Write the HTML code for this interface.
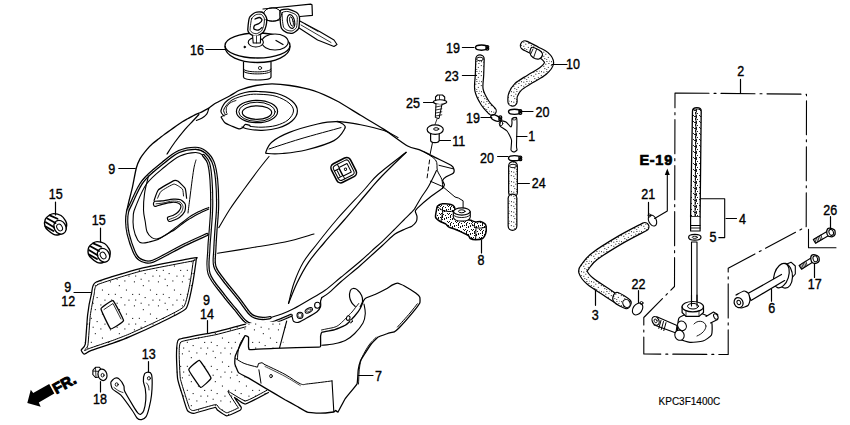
<!DOCTYPE html>
<html><head><meta charset="utf-8">
<style>
html,body{margin:0;padding:0;background:#fff;width:850px;height:425px;overflow:hidden}
svg{display:block}
text{font-family:"Liberation Sans",sans-serif;font-size:14.6px;fill:#000;stroke:#000;stroke-width:0.4px}
</style></head><body>
<svg width="850" height="425" viewBox="0 0 850 425">
<defs>
<pattern id="dots" width="24" height="24" patternUnits="userSpaceOnUse"><rect width="24" height="24" fill="#fff"/><rect x="4.3" y="16.4" width="1.1" height="1.1" fill="#222"/><rect x="15.1" y="11.5" width="1.1" height="1.1" fill="#222"/><rect x="12.1" y="5.9" width="1.1" height="1.1" fill="#222"/><rect x="0.6" y="9.0" width="1.1" height="1.1" fill="#222"/><rect x="18.8" y="5.8" width="1.1" height="1.1" fill="#222"/><rect x="5.9" y="1.5" width="1.1" height="1.1" fill="#222"/><rect x="20.6" y="14.7" width="1.1" height="1.1" fill="#222"/><rect x="8.4" y="11.6" width="1.1" height="1.1" fill="#222"/><rect x="22.8" y="21.1" width="1.1" height="1.1" fill="#222"/><rect x="13.9" y="17.3" width="1.1" height="1.1" fill="#222"/></pattern>
<pattern id="dots2" width="10" height="10" patternUnits="userSpaceOnUse"><rect width="10" height="10" fill="#fff"/><rect x="3.3" y="1.7" width="1" height="1" fill="#222"/><rect x="6.4" y="1.0" width="1" height="1" fill="#222"/><rect x="5.3" y="3.7" width="1" height="1" fill="#222"/><rect x="0.8" y="5.1" width="1" height="1" fill="#222"/><rect x="1.0" y="1.2" width="1" height="1" fill="#222"/><rect x="4.3" y="8.1" width="1" height="1" fill="#222"/><rect x="6.2" y="9.2" width="1" height="1" fill="#222"/><rect x="9.5" y="0.7" width="1" height="1" fill="#222"/><rect x="8.4" y="3.0" width="1" height="1" fill="#222"/><rect x="3.3" y="5.8" width="1" height="1" fill="#222"/><rect x="7.8" y="6.9" width="1" height="1" fill="#222"/></pattern>
<pattern id="mesh" width="6" height="6" patternUnits="userSpaceOnUse"><rect width="6" height="6" fill="#fff"/><rect x="4" y="2" width="1" height="1" fill="#222"/><rect x="5" y="2" width="1" height="1" fill="#222"/><rect x="5" y="5" width="1" height="1" fill="#222"/><rect x="5" y="4" width="1" height="1" fill="#222"/><rect x="0" y="3" width="1" height="1" fill="#222"/><rect x="1" y="5" width="1" height="1" fill="#222"/><rect x="0" y="1" width="1" height="1" fill="#222"/><rect x="0" y="2" width="1" height="1" fill="#222"/><rect x="3" y="1" width="1" height="1" fill="#222"/></pattern>
<pattern id="dots3" width="8" height="8" patternUnits="userSpaceOnUse"><rect width="8" height="8" fill="#fff"/><rect x="0" y="1" width="1" height="1" fill="#111"/><rect x="6" y="2" width="1" height="1" fill="#111"/><rect x="2" y="1" width="1" height="1" fill="#111"/><rect x="2" y="7" width="1" height="1" fill="#111"/><rect x="1" y="5" width="1" height="1" fill="#111"/><rect x="4" y="3" width="1" height="1" fill="#111"/><rect x="6" y="1" width="1" height="1" fill="#111"/><rect x="2" y="0" width="1" height="1" fill="#111"/><rect x="5" y="7" width="1" height="1" fill="#111"/><rect x="4" y="2" width="1" height="1" fill="#111"/><rect x="0" y="6" width="1" height="1" fill="#111"/><rect x="2" y="3" width="1" height="1" fill="#111"/><rect x="3" y="6" width="1" height="1" fill="#111"/><rect x="7" y="5" width="1" height="1" fill="#111"/></pattern>
</defs>
<g stroke-linejoin="round" stroke-linecap="round">
<path d="M126.5 212.0C126.8 210.8 128.2 204.1 128.9 201.3C129.6 198.5 131.4 191.8 132.3 187.9C133.2 184.0 135.4 171.4 136.3 168.0C137.2 164.6 138.8 161.1 140.0 158.9C141.2 156.7 145.5 151.2 147.0 149.4C148.5 147.6 151.3 144.7 152.7 143.5C154.1 142.3 157.4 139.9 158.8 138.8C160.2 137.7 163.2 135.2 164.6 134.2C166.0 133.2 169.2 131.0 170.6 130.0C172.0 129.0 175.1 126.8 176.5 125.8C177.9 124.8 181.0 122.7 182.4 121.8C183.8 120.9 186.8 119.3 188.2 118.5C189.6 117.7 192.7 115.9 194.0 115.3C195.3 114.7 198.2 113.5 199.4 113.0C200.6 112.5 203.1 111.2 204.2 110.6C205.3 110.0 207.5 108.9 208.8 108.1C210.1 107.3 212.6 104.9 215.0 103.5C217.4 102.1 226.7 97.6 229.6 96.0C232.5 94.4 236.9 91.2 240.0 90.0C243.1 88.8 252.3 86.2 256.0 85.5C259.7 84.8 268.0 83.8 272.0 83.8C276.0 83.8 285.2 84.7 290.0 85.5C294.8 86.3 308.0 88.8 313.5 90.6C319.0 92.4 331.5 98.1 337.0 101.0C342.5 103.9 355.1 112.0 360.6 115.3C366.1 118.6 378.5 125.8 384.0 129.4C389.5 133.0 403.3 143.6 407.6 146.0C411.9 148.4 417.6 149.0 420.8 150.3C424.0 151.6 431.4 155.5 435.0 157.3C438.6 159.1 449.2 164.1 451.4 165.5C453.6 166.9 453.8 168.8 454.0 169.7C454.2 170.6 454.1 172.4 453.2 173.2C452.3 174.0 447.4 176.0 446.2 176.8C445.0 177.6 442.8 179.4 442.6 180.3C442.4 181.2 444.4 183.8 444.4 184.7C444.4 185.6 442.8 187.8 442.6 188.2" fill="none" stroke="#000" stroke-width="1.3" />
<path d="M208.8 108.5C208.5 109.4 207.9 112.5 206.7 114.1C205.5 115.7 203.4 117.2 201.7 118.3C200.0 119.4 197.3 120.1 196.4 120.5" fill="none" stroke="#000" stroke-width="1.1" />
<path d="M198.9 114.5C198.0 115.5 195.7 118.0 193.3 120.5C191.0 123.0 187.9 126.0 184.8 129.6C181.8 133.2 178.0 137.9 175.0 142.0C172.0 146.1 168.3 152.0 167.0 154.0" fill="none" stroke="#000" stroke-width="1.2" />
<path d="M337.0 121.2C340.9 121.8 352.8 123.1 360.6 124.7C368.4 126.3 377.8 128.5 384.0 130.6C390.2 132.7 395.7 136.3 398.0 137.5" fill="none" stroke="#000" stroke-width="1.1" />
<path d="M266.0 151.8C266.7 149.9 268.1 145.2 272.0 142.0C275.9 138.8 281.8 135.4 289.4 132.4C297.0 129.4 309.8 125.8 317.6 124.0C325.5 122.2 332.2 121.5 336.5 121.6C340.8 121.7 342.1 123.4 343.5 124.6C344.9 125.8 346.3 126.1 344.7 128.8C343.1 131.5 340.4 137.1 334.0 140.6C327.6 144.1 314.6 147.8 306.0 150.0C297.4 152.2 288.7 152.9 282.4 153.5C276.1 154.1 270.7 153.8 268.0 153.5C265.3 153.2 265.3 153.7 266.0 151.8Z" fill="none" stroke="#000" stroke-width="1.2" />
<path d="M269.0 149.0C274.2 147.3 288.0 142.6 300.0 139.0C312.0 135.4 334.2 129.5 341.0 127.6" fill="none" stroke="#000" stroke-width="1.0" />
<path d="M224.0 116.0C223.5 115.1 220.3 113.2 221.0 110.5C221.7 107.8 224.0 103.0 228.0 100.0C232.0 97.0 239.8 93.9 245.0 92.5C250.2 91.1 253.7 91.3 259.0 91.5C264.3 91.7 271.5 91.9 277.0 93.5C282.5 95.1 288.6 98.1 292.0 101.0C295.4 103.9 297.4 107.7 297.4 111.0C297.4 114.3 295.2 118.2 292.0 121.0C288.8 123.8 283.0 126.5 278.0 128.0C273.0 129.6 267.0 130.1 262.0 130.3C257.0 130.5 251.3 129.6 248.0 129.0C244.7 128.4 243.0 127.3 242.0 127.0" fill="none" stroke="#000" stroke-width="1.2" />
<path d="M225.0 114.0C224.8 113.2 222.8 111.3 224.0 109.0C225.2 106.7 228.2 102.3 232.0 100.0C235.8 97.7 242.3 96.0 247.0 95.0C251.7 94.0 255.2 94.1 260.0 94.3C264.8 94.5 271.2 94.8 276.0 96.3C280.8 97.8 286.1 100.5 289.0 103.0C291.9 105.5 293.7 108.2 293.5 111.0C293.3 113.8 290.9 117.6 288.0 120.0C285.1 122.4 280.3 124.3 276.0 125.5C271.7 126.7 266.3 127.0 262.0 127.2C257.7 127.4 252.0 126.5 250.0 126.4" fill="none" stroke="#000" stroke-width="1.0" />
<path d="M221.2 117.0C221.3 117.2 221.5 117.8 222.0 118.6C222.5 119.4 223.6 121.7 224.9 122.7C226.2 123.7 229.6 125.2 231.5 126.0C233.4 126.8 237.5 128.6 238.9 128.9C240.3 129.2 241.5 128.4 242.2 128.0C242.9 127.6 243.4 126.5 243.8 126.0C244.2 125.5 244.7 124.4 245.5 124.3C246.3 124.2 249.4 125.3 250.0 125.5" fill="none" stroke="#000" stroke-width="1.2" />
<path d="M221.2 116.9 L223.2 115.7 L227.3 114.0" fill="none" stroke="#000" stroke-width="1.0" />
<path d="M226.5 112.8C226.5 111.9 225.9 109.1 226.5 107.5C227.1 105.9 228.4 104.2 230.0 103.0C231.6 101.8 235.0 100.9 236.0 100.5" fill="none" stroke="#000" stroke-width="0.9" />
<ellipse cx="257" cy="111.5" rx="20.6" ry="11.2" fill="none" stroke="#000" stroke-width="1.2" />
<ellipse cx="257" cy="111.8" rx="18.2" ry="9.6" fill="none" stroke="#000" stroke-width="1.0" />
<ellipse cx="257" cy="112.6" rx="14.7" ry="6.8" fill="none" stroke="#000" stroke-width="1.2" />
<g transform="translate(343.7 170.2) rotate(-27)" fill="none" stroke="#000"><rect x="-10.8" y="-10.4" width="21.6" height="20.8" rx="4.5" stroke-width="1.6" fill="#fff"/><rect x="-8.6" y="-8.2" width="17.2" height="16.4" rx="3" stroke-width="1"/><path d="M-8.6 -3.5 H-3 M-8.6 4.5 H-3 M-6 -3.5 V4.5 M-3.5 -3.5 V4.5 M-3 -8.2 V8.2 M-3 -4.5 H6 V5 H-3" stroke-width="1"/><circle cx="2" cy="0" r="1.2" stroke-width="0.9"/></g>
<path d="M406.2 152.3C402.2 156.2 388.1 169.7 382.0 176.0C375.9 182.3 375.9 182.7 369.6 190.0C363.3 197.3 351.8 211.2 344.2 220.0C336.6 228.8 329.9 235.9 324.0 243.0C318.1 250.1 313.0 255.6 308.5 262.3C304.0 269.0 300.3 276.1 297.0 283.0C293.7 289.9 289.9 300.1 288.5 303.5" fill="none" stroke="#000" stroke-width="1.2" />
<path d="M406.2 152.3C401.5 156.0 385.0 168.2 378.0 174.5C371.0 180.8 370.9 182.4 364.0 190.0C357.1 197.6 344.2 211.0 336.4 220.0C328.6 229.0 322.5 236.9 317.0 244.0C311.5 251.1 307.1 255.8 303.3 262.3C299.5 268.8 296.5 276.1 294.0 283.0C291.5 289.9 289.4 300.1 288.5 303.5" fill="none" stroke="#000" stroke-width="1.1" />
<path d="M442.6 188.2C440.8 189.5 434.0 194.1 430.3 197.0C426.6 199.9 420.2 205.5 418.0 207.6C415.8 209.7 415.4 209.9 415.3 211.2C415.2 212.5 416.9 214.9 417.0 216.5C417.1 218.1 417.0 220.3 416.2 221.8C415.4 223.3 413.4 225.1 411.8 226.2C410.2 227.2 408.1 227.6 405.6 228.8C403.1 230.0 398.5 231.6 395.0 234.1C391.5 236.6 387.6 240.8 382.4 245.5C377.1 250.2 366.2 260.3 360.0 265.7C353.8 271.1 345.9 277.4 341.2 281.5C336.5 285.6 331.7 290.5 328.8 292.9C325.9 295.3 322.9 296.9 321.8 297.6" fill="none" stroke="#000" stroke-width="1.2" />
<path d="M436.5 170.6C435.2 173.2 431.0 182.1 428.5 186.5C426.0 190.9 423.7 193.5 421.5 197.0C419.3 200.5 416.8 205.2 415.3 207.6C413.8 210.0 414.5 209.1 412.6 211.2C410.7 213.3 406.7 217.1 403.8 220.0C400.9 222.9 398.6 225.2 395.0 228.8C391.4 232.4 386.3 237.6 382.4 241.3C378.5 245.0 375.5 247.4 371.8 250.8C368.1 254.2 365.1 257.1 360.0 261.5C354.9 265.9 347.1 272.2 341.2 277.0C335.3 281.8 330.2 286.6 324.7 290.5C319.2 294.4 313.2 297.4 308.0 300.5C302.8 303.6 297.9 306.5 293.5 308.8C289.1 311.1 285.7 312.6 281.8 314.1C277.9 315.6 272.0 317.0 270.0 317.6" fill="none" stroke="#000" stroke-width="1.1" />
<path d="M423.2 151.4C425.3 152.8 433.2 156.8 435.6 160.0C438.0 163.2 436.4 167.4 437.4 170.6C438.4 173.8 440.9 176.5 441.8 179.4C442.7 182.3 442.5 186.7 442.6 188.2" fill="none" stroke="#000" stroke-width="1.0" />
<path d="M439 165.3 L453.2 168.8" fill="none" stroke="#000" stroke-width="1.0" />
<path d="M432.6 142 L430.2 153.8" fill="none" stroke="#000" stroke-width="1.0" />
<path d="M429.6 160 L426.8 180" fill="none" stroke="#000" stroke-width="1.0" stroke-dasharray="4 3"/>
<path d="M430.3 181.2 L442.6 186.5 L455 197 L458.4 198 L463.1 200.8 V209" fill="none" stroke="#000" stroke-width="1.0" />
<path d="M291.2 315.3C291.4 315.6 292.1 316.8 292.4 317.6C292.7 318.4 292.7 320.6 293.5 321.2C294.3 321.8 296.6 322.7 298.2 322.4C299.8 322.1 302.8 320.2 305.3 318.8C307.8 317.4 315.0 313.4 317.0 311.8C319.0 310.2 320.1 307.9 320.6 306.5C321.1 305.1 320.4 302.4 320.6 301.2C320.8 300.0 321.6 298.1 321.8 297.6" fill="none" stroke="#000" stroke-width="1.2" />
<ellipse cx="300" cy="315.3" rx="3" ry="3.1" fill="none" stroke="#000" stroke-width="1.1" />
<ellipse cx="300" cy="315.3" rx="2" ry="2.1" fill="none" stroke="#000" stroke-width="0.6" />
<ellipse cx="308.8" cy="310.4" rx="4" ry="2.1" fill="none" stroke="#000" stroke-width="1.0" transform="rotate(-28 308.8 310.4)" />
<ellipse cx="308.8" cy="310.4" rx="2.6" ry="1.1" fill="none" stroke="#000" stroke-width="0.6" transform="rotate(-28 308.8 310.4)" />
<ellipse cx="317.4" cy="305.3" rx="2.8" ry="3" fill="none" stroke="#000" stroke-width="1.1" />
<path d="M217.6 253.3C223.0 252.4 238.8 249.9 250.0 248.0C261.2 246.1 274.3 244.3 285.0 242.0C295.7 239.7 309.2 235.3 314.0 234.0" fill="none" stroke="#000" stroke-width="1.1" />
<path d="M269.0 156.5C266.8 159.2 260.2 167.4 256.0 173.0C251.8 178.6 247.8 184.0 243.5 190.0C239.2 196.0 234.1 202.7 230.0 209.0C225.9 215.3 220.7 224.5 218.8 227.6" fill="none" stroke="#000" stroke-width="1.1" />
<path d="M207.0 234.5C203.3 236.2 191.4 241.4 184.7 244.7C178.0 248.0 172.3 251.3 167.0 254.1C161.7 256.9 156.4 259.9 152.9 261.2C149.4 262.5 148.2 262.2 145.9 261.8C143.6 261.4 140.8 260.5 138.8 258.8C136.8 257.1 135.9 255.9 134.1 251.8C132.3 247.7 129.4 239.1 128.2 234.1C127.0 229.1 126.8 225.7 126.7 222.0C126.6 218.3 126.8 215.0 127.5 212.0C128.2 209.0 128.4 209.2 131.0 204.0C133.6 198.8 137.7 187.8 143.0 181.0C148.3 174.2 156.8 167.9 162.8 163.0C168.8 158.1 173.5 153.9 179.0 151.5C184.5 149.1 191.3 148.2 195.7 148.3C200.1 148.4 202.6 149.7 205.5 152.0C208.4 154.3 211.2 157.5 213.0 162.0C214.8 166.5 215.7 171.5 216.5 178.8C217.3 186.1 217.7 197.5 217.6 206.0C217.5 214.5 216.5 222.3 216.0 229.6C215.5 236.9 215.0 243.9 214.8 250.0C214.6 256.1 213.4 261.4 214.8 266.3C216.2 271.2 219.3 274.2 223.2 279.5C227.1 284.8 233.9 292.7 238.3 298.3C242.7 303.9 246.8 310.3 249.6 313.4C252.4 316.5 253.0 316.2 255.2 317.1C257.4 318.0 260.3 318.4 262.8 318.5C265.3 318.6 268.8 317.8 270.0 317.6" fill="none" stroke="#000" stroke-width="3.3"/>
<path d="M207.0 234.5C203.3 236.2 191.4 241.4 184.7 244.7C178.0 248.0 172.3 251.3 167.0 254.1C161.7 256.9 156.4 259.9 152.9 261.2C149.4 262.5 148.2 262.2 145.9 261.8C143.6 261.4 140.8 260.5 138.8 258.8C136.8 257.1 135.9 255.9 134.1 251.8C132.3 247.7 129.4 239.1 128.2 234.1C127.0 229.1 126.8 225.7 126.7 222.0C126.6 218.3 126.8 215.0 127.5 212.0C128.2 209.0 128.4 209.2 131.0 204.0C133.6 198.8 137.7 187.8 143.0 181.0C148.3 174.2 156.8 167.9 162.8 163.0C168.8 158.1 173.5 153.9 179.0 151.5C184.5 149.1 191.3 148.2 195.7 148.3C200.1 148.4 202.6 149.7 205.5 152.0C208.4 154.3 211.2 157.5 213.0 162.0C214.8 166.5 215.7 171.5 216.5 178.8C217.3 186.1 217.7 197.5 217.6 206.0C217.5 214.5 216.5 222.3 216.0 229.6C215.5 236.9 215.0 243.9 214.8 250.0C214.6 256.1 213.4 261.4 214.8 266.3C216.2 271.2 219.3 274.2 223.2 279.5C227.1 284.8 233.9 292.7 238.3 298.3C242.7 303.9 246.8 310.3 249.6 313.4C252.4 316.5 253.0 316.2 255.2 317.1C257.4 318.0 260.3 318.4 262.8 318.5C265.3 318.6 268.8 317.8 270.0 317.6" fill="none" stroke="#fff" stroke-width="0.9"/>
<path d="M208.8 209.0C207.0 209.8 201.1 212.4 198.0 214.0C194.9 215.6 192.2 217.3 190.0 218.6C187.8 219.9 187.2 220.2 184.7 222.0C182.2 223.8 177.8 227.6 175.0 229.5C172.2 231.4 170.7 231.8 167.9 233.5C165.1 235.2 161.2 238.1 158.0 239.5C154.8 240.9 151.6 241.4 149.0 242.0C146.4 242.6 144.4 243.3 142.5 243.0C140.6 242.7 139.3 242.7 137.8 240.2C136.3 237.7 134.2 232.2 133.5 228.0C132.8 223.8 133.0 218.5 133.3 215.0C133.6 211.5 133.3 212.2 135.5 207.0C137.7 201.8 141.7 190.7 146.5 184.0C151.3 177.3 158.9 171.7 164.5 167.0C170.1 162.3 174.8 158.4 180.0 156.0C185.2 153.6 191.6 152.6 195.5 152.5C199.4 152.4 201.3 153.8 203.5 155.5C205.7 157.2 207.7 161.8 208.5 163.0" fill="none" stroke="#000" stroke-width="1.1" />
<path d="M203.5 155.5C204.3 156.8 207.2 158.9 208.5 163.0C209.8 167.1 210.5 172.8 211.0 180.0C211.5 187.2 211.8 197.7 211.7 206.0C211.6 214.3 210.8 222.3 210.3 229.6C209.8 236.9 209.0 242.6 208.8 250.0C208.6 257.4 206.7 266.4 209.1 273.8C211.5 281.2 218.8 288.5 223.2 294.5C227.6 300.5 231.9 305.2 235.5 309.6C239.1 314.0 242.2 318.4 244.9 320.9C247.6 323.4 248.8 323.8 251.5 324.6C254.2 325.4 257.0 326.0 260.9 325.6C264.8 325.2 269.9 323.7 275.0 322.0C280.1 320.3 288.5 316.4 291.2 315.3" fill="none" stroke="#000" stroke-width="3.2"/>
<path d="M203.5 155.5C204.3 156.8 207.2 158.9 208.5 163.0C209.8 167.1 210.5 172.8 211.0 180.0C211.5 187.2 211.8 197.7 211.7 206.0C211.6 214.3 210.8 222.3 210.3 229.6C209.8 236.9 209.0 242.6 208.8 250.0C208.6 257.4 206.7 266.4 209.1 273.8C211.5 281.2 218.8 288.5 223.2 294.5C227.6 300.5 231.9 305.2 235.5 309.6C239.1 314.0 242.2 318.4 244.9 320.9C247.6 323.4 248.8 323.8 251.5 324.6C254.2 325.4 257.0 326.0 260.9 325.6C264.8 325.2 269.9 323.7 275.0 322.0C280.1 320.3 288.5 316.4 291.2 315.3" fill="none" stroke="#fff" stroke-width="0.9"/>
<path d="M148.5 176.0C147.8 179.0 145.3 188.1 144.5 193.8C143.7 199.5 143.4 205.3 143.5 210.0C143.6 214.7 144.7 218.4 145.3 222.0C145.9 225.6 145.9 229.2 147.0 231.8C148.1 234.4 150.0 236.4 151.8 237.6C153.6 238.8 155.1 239.4 157.6 238.8C160.1 238.2 164.3 235.7 167.0 234.1C169.7 232.5 170.8 231.1 173.5 229.1C176.2 227.1 180.4 223.9 183.0 222.0C185.6 220.1 186.5 219.0 188.8 217.4C191.1 215.8 193.7 214.3 197.0 212.6C200.3 210.9 206.8 208.3 208.8 207.4" fill="none" stroke="#000" stroke-width="1.1" />
<path d="M188.0 213.0C188.3 210.3 189.1 204.2 190.0 197.0C190.9 189.8 192.6 176.2 193.6 170.0C194.6 163.8 195.6 161.7 196.0 160.0" fill="none" stroke="#000" stroke-width="1.0" />
<path d="M154.1 200.4C154.5 199.5 156.8 191.5 158.4 189.8C160.1 188.2 172.3 181.3 173.9 180.6C175.5 179.9 177.2 180.7 178.1 181.3C179.0 182.0 184.5 187.0 185.2 188.4C185.9 189.8 186.5 197.4 186.6 198.2" fill="none" stroke="#000" stroke-width="1.2" />
<path d="M157.6 198.2C157.9 197.6 159.8 192.4 161.2 191.2C162.6 190.0 172.1 184.3 173.9 184.1C175.7 183.9 181.6 188.0 182.4 189.0C183.2 190.0 183.4 195.4 183.5 196.0" fill="none" stroke="#000" stroke-width="0.9" />
<path d="M154.1 206.0C153.8 205.6 153.4 203.7 153.5 203.2C153.6 202.7 154.0 201.6 155.0 201.3C156.0 201.0 159.6 201.2 161.8 200.9C164.0 200.6 171.3 199.2 173.5 199.1C175.7 199.0 179.2 199.1 180.6 199.7C182.0 200.3 184.8 203.0 185.3 204.4C185.8 205.8 185.4 210.0 184.7 211.5C184.0 213.0 180.7 216.4 179.4 217.4C178.1 218.4 174.7 219.8 173.5 220.3C172.3 220.8 170.1 221.6 169.4 221.5C168.7 221.4 167.8 220.0 167.6 219.5C167.4 219.0 167.4 217.5 168.0 217.0C168.6 216.5 171.7 216.1 172.9 215.5C174.1 214.9 177.7 212.6 178.6 211.5C179.5 210.4 181.0 207.5 181.0 206.5C181.0 205.5 179.7 203.7 178.6 203.2C177.5 202.7 173.9 202.2 172.0 202.3C170.1 202.4 163.9 203.8 162.0 204.3C160.1 204.8 156.9 206.1 156.0 206.3C155.1 206.5 154.4 206.4 154.1 206.0Z" fill="#fff" stroke="#000" stroke-width="1.2" />
<path d="M156.0 203.8C156.9 203.7 160.8 203.4 163.0 203.0C165.2 202.6 170.2 201.1 172.5 201.0C174.8 200.9 178.6 201.3 180.0 202.0C181.4 202.7 182.8 205.2 183.0 206.5C183.2 207.8 182.4 210.6 181.5 212.0C180.6 213.4 177.7 215.8 176.0 216.8C174.3 217.8 169.9 219.1 169.0 219.5" fill="none" stroke="#000" stroke-width="0.8" />
<ellipse cx="257.5" cy="45.5" rx="32.5" ry="12.5" fill="#fff" stroke="#000" stroke-width="1.3" />
<path d="M225 46.5 C225 56 240 62.5 257.5 62.5 C275 62.5 290 56 290 46.5" fill="none" stroke="#000" stroke-width="1.3" />
<path d="M243.5 62 V77 C243.5 81 271 81 271 77 V62" fill="none" stroke="#000" stroke-width="1.2" />
<path d="M243.5 69 C243.5 73 271 73 271 69" fill="none" stroke="#000" stroke-width="1.0" />
<path d="M243.5 71 C243.5 75 271 75 271 71" fill="none" stroke="#000" stroke-width="1.0" />
<ellipse cx="260" cy="68" rx="1.6" ry="1.6" fill="none" stroke="#000" stroke-width="0.8" />
<ellipse cx="275" cy="42" rx="13.2" ry="8" fill="#fff" stroke="#000" stroke-width="1.1" />
<path d="M276 40.5 L283 44.5" fill="none" stroke="#000" stroke-width="1.3" />
<ellipse cx="244.7" cy="47" rx="0.9" ry="0.9" fill="#000" stroke="#000" stroke-width="0.6" />
<ellipse cx="255.8" cy="42.3" rx="7.6" ry="4.7" fill="#fff" stroke="#000" stroke-width="1.1" />
<path d="M263.0 9.0 L310.6 4.1 L312.0 4.8 L312.4 15.3 L300.0 16.5" fill="#fff" stroke="#000" stroke-width="1.2" />
<path d="M297.0 19.5 L320.0 31.8 L334.0 40.0 L337.0 44.5 L334.0 46.5 L317.6 40.0 L296.0 26.0Z" fill="#fff" stroke="#000" stroke-width="1.1" />
<path d="M301 25 L331 42.5 M305 24 L318 31.5" fill="none" stroke="#000" stroke-width="0.8" />
<path d="M280.2 10.6C281.0 9.5 286.6 9.0 288.2 9.2C289.8 9.4 295.6 11.7 296.7 12.5C297.8 13.3 299.3 15.6 299.5 17.2C299.7 18.8 299.3 26.9 298.6 28.5C297.9 30.1 294.1 32.8 292.9 33.2C291.7 33.6 287.4 32.8 286.3 32.3C285.2 31.8 282.2 29.7 281.6 28.5C281.0 27.3 280.3 21.8 280.2 20.0C280.1 18.2 279.4 11.7 280.2 10.6Z" fill="#fff" stroke="#000" stroke-width="1.3" />
<path d="M282.4 12.4C283.0 11.6 286.7 11.3 288.0 11.5C289.3 11.7 294.3 13.7 295.2 14.3C296.1 14.9 297.1 16.4 297.3 17.7C297.4 19.0 297.0 26.1 296.5 27.4C296.0 28.7 293.2 30.6 292.2 30.9C291.3 31.2 288.1 30.6 287.2 30.2C286.3 29.8 284.1 28.4 283.6 27.3C283.2 26.3 282.5 21.3 282.4 19.8C282.3 18.3 281.8 13.3 282.4 12.4Z" fill="none" stroke="#000" stroke-width="0.9" />
<ellipse cx="291" cy="21.5" rx="3.6" ry="7" fill="none" stroke="#000" stroke-width="1.1" transform="rotate(-12 291 21.5)" />
<ellipse cx="291.5" cy="21.5" rx="1.6" ry="4.8" fill="none" stroke="#000" stroke-width="0.9" transform="rotate(-12 291.5 21.5)" />
<ellipse cx="272.5" cy="14.5" rx="9" ry="6.8" fill="none" stroke="#000" stroke-width="1.0" />
<path d="M249.6 17.2C250.3 15.5 254.1 13.0 255.3 12.5C256.5 12.0 260.5 11.9 261.4 12.0C262.3 12.1 263.7 13.3 264.2 13.9C264.7 14.5 266.4 17.0 266.6 18.2C266.8 19.4 266.4 24.3 266.1 25.7C265.8 27.1 264.2 31.3 263.3 32.3C262.4 33.3 258.3 35.7 257.2 36.0C256.1 36.3 252.8 35.5 252.0 35.1C251.2 34.7 249.1 32.9 248.7 32.3C248.3 31.7 247.7 31.0 247.8 29.5C247.9 28.0 248.8 18.9 249.6 17.2Z" fill="#fff" stroke="#000" stroke-width="1.3" />
<path d="M251.7 18.4C252.3 16.9 255.3 15.0 256.2 14.6C257.1 14.2 260.2 14.2 260.8 14.3C261.4 14.3 262.2 15.0 262.5 15.4C262.9 15.9 264.2 17.7 264.4 18.7C264.5 19.7 264.2 24.0 263.9 25.2C263.6 26.4 262.3 29.9 261.6 30.8C260.8 31.6 257.6 33.5 256.8 33.7C255.9 33.9 253.6 33.3 253.0 33.0C252.3 32.8 250.9 31.4 250.6 31.0C250.3 30.7 249.9 30.6 250.1 29.3C250.2 28.0 251.0 19.8 251.7 18.4Z" fill="none" stroke="#000" stroke-width="0.9" />
<path d="M255.0 19.0C255.6 18.8 258.6 17.4 259.5 17.5C260.4 17.6 262.1 19.2 262.0 20.0C261.9 20.8 260.0 22.8 259.0 23.5C258.0 24.2 255.2 24.8 254.5 25.5C253.8 26.2 253.5 28.4 254.0 29.0C254.5 29.6 257.4 30.2 258.5 30.0C259.6 29.8 261.5 27.8 262.0 27.5" fill="none" stroke="#000" stroke-width="1.3" />
<path d="M252.6 35.5 L253.2 43.0 L260.4 43.0 L260.6 35.5" fill="#fff" stroke="#000" stroke-width="1.1" />
<path d="M256.5 36 V43" fill="none" stroke="#000" stroke-width="0.8" />
<path d="M265.8 19.8 C269 21.3 276 22 280.5 19.5" fill="none" stroke="#000" stroke-width="1.0" />
<path d="M45.3 219.3C46.0 217.6 47.6 216.4 49.0 215.5C50.4 214.6 51.6 213.6 53.6 213.6C55.6 213.6 59.0 214.3 61.0 215.5C63.0 216.7 64.6 219.2 65.6 220.8C66.5 222.4 66.8 223.6 66.7 225.3C66.6 227.1 66.1 229.7 64.8 231.3C63.5 232.9 60.7 234.2 58.8 234.7C56.9 235.2 55.4 235.1 53.6 234.4C51.9 233.7 49.8 232.0 48.3 230.6C46.8 229.2 45.4 227.9 44.9 226.0C44.4 224.1 44.6 221.1 45.3 219.3Z" fill="#fff" stroke="#000" stroke-width="1.4" />
<ellipse cx="60" cy="227.2" rx="5.8" ry="7.2" fill="#fff" stroke="#000" stroke-width="1.3" transform="rotate(-30 60 227.2)" />
<ellipse cx="59.6" cy="227.5" rx="2.6" ry="3.6" fill="none" stroke="#000" stroke-width="1.0" transform="rotate(-30 59.6 227.5)" />
<path d="M49.8 215.4 L57.5 218.8" fill="none" stroke="#000" stroke-width="1.8" />
<path d="M47.3 218.5 L55.5 223.0" fill="none" stroke="#000" stroke-width="1.8" />
<path d="M45.8 222.2 L54.0 227.2" fill="none" stroke="#000" stroke-width="1.8" />
<path d="M45.6 226.5 L53.5 231.0" fill="none" stroke="#000" stroke-width="1.8" />
<path d="M88.8 247.3C89.5 245.6 91.1 244.4 92.5 243.5C93.9 242.6 95.1 241.6 97.1 241.6C99.1 241.6 102.5 242.3 104.5 243.5C106.5 244.7 108.1 247.2 109.1 248.8C110.0 250.4 110.3 251.6 110.2 253.3C110.1 255.1 109.6 257.7 108.3 259.3C107.0 260.9 104.2 262.2 102.3 262.7C100.4 263.2 98.8 263.1 97.1 262.4C95.3 261.7 93.2 260.0 91.8 258.6C90.3 257.2 88.9 255.9 88.4 254.0C87.9 252.1 88.1 249.1 88.8 247.3Z" fill="#fff" stroke="#000" stroke-width="1.4" />
<ellipse cx="103.5" cy="255.2" rx="5.8" ry="7.2" fill="#fff" stroke="#000" stroke-width="1.3" transform="rotate(-30 103.5 255.2)" />
<ellipse cx="103.1" cy="255.5" rx="2.6" ry="3.6" fill="none" stroke="#000" stroke-width="1.0" transform="rotate(-30 103.1 255.5)" />
<path d="M93.3 243.4 L101.0 246.8" fill="none" stroke="#000" stroke-width="1.8" />
<path d="M90.8 246.5 L99.0 251.0" fill="none" stroke="#000" stroke-width="1.8" />
<path d="M89.3 250.2 L97.5 255.2" fill="none" stroke="#000" stroke-width="1.8" />
<path d="M89.1 254.5 L97.0 259.0" fill="none" stroke="#000" stroke-width="1.8" />
<path d="M95.3 281.8C99.4 279.7 131.7 270.1 140.0 268.0C148.3 265.9 189.8 257.9 194.5 257.2C199.2 256.5 196.9 257.3 196.8 259.6C196.7 261.9 193.9 280.9 193.0 285.0C192.1 289.1 189.2 305.8 186.5 309.0C183.8 312.2 164.7 321.2 160.0 323.5C155.3 325.8 134.4 335.3 130.6 337.0C126.8 338.7 117.2 342.3 113.9 343.5C110.6 344.7 93.0 350.5 90.5 351.5C88.0 352.5 84.8 355.1 84.0 355.0C83.2 354.9 80.4 350.9 80.5 350.0C80.6 349.1 84.2 346.9 84.7 344.0C85.2 341.1 86.5 319.2 87.0 315.0C87.5 310.8 90.3 295.8 91.0 293.0C91.7 290.2 91.2 283.9 95.3 281.8Z" fill="url(#dots)" stroke="#000" stroke-width="0" stroke="none"/>
<path d="M95.8 282.3C99.8 280.2 131.9 270.6 140.1 268.6C148.4 266.5 189.6 258.6 194.3 257.9C199.0 257.1 196.3 257.6 196.2 259.8C196.0 262.1 193.3 280.8 192.4 284.9C191.6 288.9 188.7 305.4 186.0 308.6C183.3 311.8 164.4 320.6 159.7 323.0C155.1 325.3 134.2 334.8 130.4 336.4C126.5 338.1 117.0 341.7 113.7 342.9C110.4 344.1 92.7 350.0 90.3 350.9C87.8 351.9 84.9 354.3 84.2 354.2C83.4 354.1 81.1 350.8 81.2 350.0C81.3 349.2 84.8 347.1 85.3 344.2C85.8 341.3 87.1 319.3 87.6 315.1C88.1 310.8 90.9 295.9 91.6 293.2C92.3 290.4 91.7 284.3 95.8 282.3Z" fill="none" stroke="#000" stroke-width="1.25" />
<path d="M97.8 284.5C101.7 282.6 132.8 273.2 140.8 271.2C148.8 269.2 189.0 261.7 193.4 260.8C197.7 259.9 193.6 258.8 193.3 260.7C193.0 262.7 190.6 280.5 189.8 284.3C189.0 288.2 186.3 303.8 183.7 306.8C181.1 309.8 163.0 318.3 158.5 320.5C154.0 322.8 133.1 332.3 129.3 334.0C125.5 335.6 116.1 339.2 112.8 340.4C109.4 341.6 91.5 347.6 89.2 348.5C86.9 349.3 85.4 350.6 85.0 350.7C84.6 350.8 84.3 350.5 84.5 350.0C84.8 349.5 87.4 348.0 87.9 345.2C88.4 342.3 89.8 319.7 90.3 315.4C90.8 311.2 93.6 296.5 94.2 293.9C94.8 291.3 93.9 286.4 97.8 284.5Z" fill="none" stroke="#000" stroke-width="1.0" />
<path d="M101.0 308.8C101.1 307.4 111.9 300.0 113.0 300.6C114.1 301.2 123.6 319.2 123.5 320.6C123.4 322.0 111.7 329.4 110.6 328.8C109.5 328.2 100.9 310.2 101.0 308.8Z" fill="#fff" stroke="#000" stroke-width="1.3" />
<path d="M104.0 309.5 L113.0 303.5 L121.0 319.0" fill="none" stroke="#000" stroke-width="0.8" />
<path d="M178.2 339.0C180.8 337.4 210.5 332.5 215.0 331.5C219.5 330.5 240.6 324.1 245.3 323.5C250.0 322.9 283.0 320.8 285.5 322.4C288.0 324.0 282.7 343.7 283.0 347.0C283.3 350.3 290.9 368.9 290.0 372.0C289.1 375.1 271.8 390.8 268.8 393.0C265.8 395.2 247.5 404.3 245.3 404.7C243.1 405.1 236.1 398.6 235.9 398.8C235.7 399.0 241.5 406.2 241.8 407.0C242.1 407.8 241.6 410.0 240.6 410.6C239.6 411.2 228.1 416.5 226.5 416.5C224.9 416.5 217.8 411.2 217.0 410.6C216.2 410.0 216.3 408.0 214.7 408.2C213.1 408.4 195.3 413.8 193.5 414.0C191.7 414.2 187.8 412.2 187.0 411.0C186.2 409.8 182.5 397.4 181.8 395.3C181.1 393.2 177.4 381.5 177.0 378.8C176.6 376.1 175.8 358.0 175.9 355.3C176.0 352.6 175.6 340.6 178.2 339.0Z" fill="url(#dots)" stroke="#000" stroke-width="0" stroke="none"/>
<path d="M268.4 392.5C266.9 393.3 247.6 403.7 245.3 404.0C243.1 404.3 234.7 397.2 234.4 397.4C234.2 397.6 240.8 406.3 241.1 407.1C241.5 407.9 241.1 409.6 240.1 410.2C239.1 410.7 228.1 415.8 226.6 415.8C225.0 415.8 218.2 410.7 217.4 410.1C216.6 409.6 216.5 407.3 214.9 407.5C213.3 407.7 195.4 413.2 193.6 413.4C191.7 413.6 188.2 411.8 187.5 410.6C186.7 409.3 183.0 397.2 182.4 395.1C181.7 393.0 178.0 381.4 177.6 378.7C177.2 376.0 176.4 357.9 176.5 355.3C176.6 352.7 176.2 341.1 178.7 339.5C181.3 338.0 210.7 333.1 215.1 332.1C219.6 331.1 243.4 324.6 245.4 324.1" fill="none" stroke="#000" stroke-width="1.25" />
<path d="M266.9 390.3C265.4 391.0 248.1 400.9 245.5 400.9C242.9 401.0 228.4 390.8 227.9 391.3C227.4 391.7 237.5 406.4 238.1 407.6C238.8 408.7 238.7 407.8 237.9 408.1C237.2 408.5 228.1 412.8 226.8 412.8C225.5 412.8 219.8 408.6 219.1 408.0C218.4 407.5 217.4 404.3 215.7 404.5C214.0 404.7 195.5 410.2 193.8 410.5C192.1 410.8 190.3 409.7 189.7 408.6C189.1 407.5 185.6 396.3 185.0 394.3C184.3 392.3 180.7 380.8 180.3 378.3C179.9 375.7 179.2 357.9 179.2 355.5C179.3 353.0 178.7 343.2 181.1 341.8C183.6 340.4 211.4 335.7 215.8 334.7C220.1 333.7 243.8 327.3 245.8 326.8" fill="none" stroke="#000" stroke-width="1.0" />
<path d="M286.7 321 L279.4 348.4" fill="none" stroke="#000" stroke-width="1.1" />
<path d="M188.8 369.7C188.7 368.3 198.3 359.9 199.4 360.3C200.5 360.7 210.9 376.6 211.0 378.0C211.1 379.4 201.7 387.8 200.6 387.4C199.5 387.0 188.9 371.1 188.8 369.7Z" fill="#fff" stroke="#000" stroke-width="1.3" />
<path d="M244.8 336.0C245.5 335.1 248.3 336.6 248.5 337.2C248.7 337.8 248.4 346.4 248.5 347.0C248.6 347.6 248.4 349.5 249.7 349.6C251.0 349.7 270.9 348.4 274.4 348.3C277.9 348.2 316.5 347.2 318.8 347.1C321.1 347.0 320.5 345.9 320.6 345.3C320.7 344.7 320.5 336.7 320.6 336.0C320.7 335.3 321.4 332.5 322.0 332.2C322.6 331.9 332.3 330.3 333.5 330.0C334.7 329.7 344.2 326.0 345.3 325.3C346.4 324.6 353.9 316.9 354.7 316.0C355.5 315.1 360.1 308.8 360.5 308.0C360.9 307.2 363.4 301.0 363.7 300.5C364.0 300.0 365.4 298.3 366.0 298.0C366.6 297.7 374.0 294.9 375.0 294.5C376.0 294.1 385.1 289.5 386.0 289.0C386.9 288.5 392.0 285.2 392.6 284.9C393.2 284.6 396.9 283.2 397.5 283.2C398.1 283.2 403.1 285.2 404.0 285.7C404.9 286.2 414.9 292.5 415.7 293.1C416.5 293.7 419.6 296.7 419.8 297.2C420.0 297.7 420.2 302.2 419.8 303.0C419.4 303.8 413.4 311.7 412.4 312.9C411.4 314.1 400.1 326.8 399.2 327.7C398.3 328.6 394.9 331.5 394.3 331.8C393.7 332.1 388.4 333.2 387.6 333.5C386.8 333.8 379.0 336.5 378.2 337.0C377.4 337.5 371.9 343.1 371.2 344.0C370.5 344.9 364.5 354.2 364.0 355.0C363.5 355.8 360.9 359.9 360.6 360.6C360.3 361.4 358.4 368.8 358.2 370.0C358.0 371.2 357.7 382.6 357.0 384.0C356.3 385.4 345.9 397.6 345.0 399.0C344.1 400.4 338.5 411.4 338.0 412.0C337.5 412.6 335.8 410.3 335.6 410.3C335.4 410.3 334.6 411.9 333.8 412.0C333.0 412.1 321.6 413.2 320.3 413.2C319.0 413.2 308.6 412.5 307.4 412.1C306.2 411.8 297.9 406.8 296.8 406.2C295.7 405.6 286.6 400.6 285.0 399.7C283.4 398.8 267.0 389.1 265.3 388.1C263.6 387.1 252.5 380.4 251.2 379.6C249.9 378.8 239.3 373.4 238.5 372.6C237.7 371.8 235.1 364.9 234.9 364.1C234.7 363.3 234.8 357.4 235.3 356.0C235.8 354.6 244.1 336.9 244.8 336.0Z" fill="#fff" stroke="#000" stroke-width="1.3" />
<path d="M235.6 358.5C237.0 359.3 240.6 362.0 244.1 363.4C247.6 364.8 254.7 366.4 256.8 367.0" fill="none" stroke="#000" stroke-width="1.0" />
<path d="M244.8 336.0C244.0 337.3 241.1 341.3 240.0 344.0C238.9 346.7 238.4 349.5 238.0 352.0C237.6 354.5 237.6 357.7 237.5 358.8" fill="none" stroke="#000" stroke-width="1.0" />
<path d="M257.5 367.0 L258.5 363.5 L262.0 362.7 L264.6 364.5" fill="none" stroke="#000" stroke-width="1.0" />
<path d="M258.9 369.8 L261 383.2" fill="none" stroke="#000" stroke-width="1.0" />
<path d="M264.6 364.5C268.0 366.1 279.1 371.2 285.0 374.4C290.9 377.6 296.4 382.2 300.3 383.8C304.2 385.4 303.2 384.3 308.5 383.8C313.8 383.3 328.1 381.4 332.0 380.9" fill="none" stroke="#000" stroke-width="1.0" />
<path d="M265.0 366.5C268.3 368.1 279.1 373.2 285.0 376.4C290.9 379.6 297.8 384.1 300.3 385.6" fill="none" stroke="#000" stroke-width="0.7" />
<path d="M332 380.9 L333.8 411.5" fill="none" stroke="#000" stroke-width="1.1" />
<ellipse cx="271" cy="376.1" rx="1.3" ry="1.7" fill="none" stroke="#000" stroke-width="0.9" />
<path d="M417.3 303.8C416.1 305.3 413.3 309.1 410.0 313.0C406.7 316.9 399.6 324.7 397.5 327.0" fill="none" stroke="#000" stroke-width="1.0" />
<path d="M321.8 345.3C323.8 345.1 329.6 344.8 333.5 344.0C337.4 343.2 341.8 342.4 345.3 340.6C348.8 338.9 351.8 336.4 354.7 333.5C357.6 330.6 361.2 326.3 363.0 323.0C364.8 319.7 365.1 316.7 365.3 313.5C365.5 310.3 364.2 305.6 364.0 304.0" fill="none" stroke="#000" stroke-width="1.1" />
<path d="M355.2 306.5C354.7 305.9 352.5 304.0 351.7 302.6C350.9 301.2 349.8 298.8 349.6 297.0C349.4 295.2 349.8 291.9 350.3 290.6C350.8 289.3 352.0 288.6 353.1 288.5C354.2 288.4 356.1 288.8 357.4 289.9C358.7 290.9 360.8 293.8 361.6 295.5C362.4 297.2 362.8 299.5 362.6 301.2C362.4 302.9 360.6 306.0 360.2 306.8" fill="none" stroke="#000" stroke-width="1.2" />
<path d="M358.7 303.5C357.6 304.9 353.6 310.1 352.0 312.0C350.4 313.9 350.4 313.5 348.9 315.0C347.4 316.5 345.3 319.1 343.2 321.0C341.1 322.9 339.1 325.3 336.2 326.6C333.3 327.9 328.4 328.4 326.0 329.0C323.6 329.6 322.2 329.8 321.5 330.0" fill="none" stroke="#000" stroke-width="0.9" />
<path d="M376.0 337.5C374.8 338.8 371.3 341.7 369.0 345.0C366.7 348.3 363.6 353.7 362.0 357.5C360.4 361.3 360.1 363.6 359.5 368.0C358.9 372.4 358.7 381.3 358.5 384.0" fill="none" stroke="#000" stroke-width="0.9" />
<ellipse cx="348.2" cy="318.1" rx="1.7" ry="2.3" fill="#fff" stroke="#000" stroke-width="1.0" transform="rotate(20 348.2 318.1)" />
<ellipse cx="351" cy="321.2" rx="1.3" ry="1.7" fill="#fff" stroke="#000" stroke-width="0.9" transform="rotate(20 351 321.2)" />
<path d="M110.9 382.2C111.2 381.0 113.8 378.7 114.8 378.3C115.8 377.9 118.2 378.2 119.3 379.1C120.4 380.0 123.3 384.6 123.9 386.0C124.5 387.4 123.6 389.0 124.7 391.3C125.8 393.6 131.6 403.4 133.1 405.9C134.6 408.4 136.8 411.8 137.7 412.8C138.6 413.8 140.1 414.6 140.8 414.3C141.5 414.0 143.2 412.2 143.8 410.5C144.4 408.8 145.6 402.3 145.8 399.8C146.0 397.3 145.6 391.1 145.3 389.0C145.0 386.9 143.5 383.2 143.4 381.4C143.3 379.6 144.0 374.9 144.6 373.8C145.2 372.7 147.6 372.1 148.4 372.2C149.2 372.3 151.1 373.2 151.5 374.5C151.9 375.8 152.2 380.6 152.2 383.0C152.2 385.4 151.8 392.4 151.5 395.2C151.2 398.0 149.8 404.9 149.2 407.4C148.6 409.9 147.0 415.2 146.1 416.6C145.2 418.0 142.6 419.4 141.5 419.6C140.4 419.8 138.1 419.1 137.0 418.0C135.9 416.9 134.2 413.2 132.3 410.5C130.4 407.8 123.2 397.7 120.9 395.2C118.6 392.7 113.7 390.5 112.5 389.0C111.3 387.5 110.6 383.4 110.9 382.2Z" fill="#fff" stroke="#000" stroke-width="1.2" />
<ellipse cx="116.7" cy="384.5" rx="1.5" ry="1.7" fill="none" stroke="#000" stroke-width="0.9" />
<ellipse cx="148.9" cy="378.3" rx="1.5" ry="1.7" fill="none" stroke="#000" stroke-width="0.9" />
<path d="M114.0 387.5C114.8 388.1 117.5 390.2 119.0 391.0C120.5 391.8 122.3 392.2 123.0 392.5" fill="none" stroke="#000" stroke-width="0.8" />
<path d="M146.5 383.0C146.8 383.5 148.1 384.8 148.5 386.0C148.9 387.2 148.9 389.3 149.0 390.0" fill="none" stroke="#000" stroke-width="0.8" />
<path d="M93.0 370.0 L95.5 367.3 L99.5 367.3 L101.0 369.5 L99.5 377.0 L95.5 377.5 L92.8 374.5Z" fill="#fff" stroke="#000" stroke-width="1.1" />
<path d="M95.5 367.6 L96 377.3 M93 371 L99.5 371.5" fill="none" stroke="#000" stroke-width="0.8" />
<ellipse cx="102.5" cy="374.8" rx="4.4" ry="5.8" fill="#fff" stroke="#000" stroke-width="1.2" transform="rotate(-15 102.5 374.8)" />
<ellipse cx="102.6" cy="375.2" rx="1.5" ry="1.8" fill="none" stroke="#000" stroke-width="0.9" />
<path d="M27.3 402.9 L30.8 389.8 L33.2 393 L49.2 384.1 L54.3 393.5 L38.8 402.5 L40.7 406.7 Z" fill="#000"/>
<text x="0" y="0" font-weight="bold" transform="translate(56.3 394.3) rotate(-29)" style="font-size:15px;stroke-width:1px">FR.</text>
<path d="M435.5 97.0 L437.5 95.0 L442.5 95.0 L444.7 97.0 L444.7 100.5 L435.5 100.5Z" fill="#fff" stroke="#000" stroke-width="1.1" />
<path d="M439.5 95.5 V100.5" fill="none" stroke="#000" stroke-width="0.8" />
<path d="M434.0 101.0C435.0 100.5 438.0 99.8 440.0 99.8C442.0 99.8 445.0 100.5 446.0 101.0C447.0 101.5 447.0 102.4 446.0 103.0C445.0 103.6 442.0 104.5 440.0 104.5C438.0 104.5 435.0 103.6 434.0 103.0C433.0 102.4 433.0 101.5 434.0 101.0Z" fill="#fff" stroke="#000" stroke-width="1.1" />
<path d="M436.0 104.3 L435.3 117.5 L439.0 118.6 L442.0 104.3" fill="#fff" stroke="#000" stroke-width="1.0" />
<path d="M435.8 107 L441.8 105.8" fill="none" stroke="#000" stroke-width="0.8" />
<path d="M435.8 110 L441.8 108.8" fill="none" stroke="#000" stroke-width="0.8" />
<path d="M435.8 113 L441.8 111.8" fill="none" stroke="#000" stroke-width="0.8" />
<path d="M435.8 116 L441.8 114.8" fill="none" stroke="#000" stroke-width="0.8" />
<path d="M437.2 118.6 L435 124.5" fill="none" stroke="#000" stroke-width="0.8" />
<path d="M430.6 130 V140 C430.6 143.5 439.2 143.5 439.2 140 V130" fill="#fff" stroke="#000" stroke-width="1.2" />
<ellipse cx="435.2" cy="129.6" rx="8.1" ry="4.8" fill="#fff" stroke="#000" stroke-width="1.2" />
<ellipse cx="436.2" cy="129" rx="2.6" ry="1.3" fill="none" stroke="#000" stroke-width="1.0" />
<path d="M480.0 59.0C479.9 61.7 479.7 69.8 479.5 75.0C479.3 80.2 478.1 85.3 479.0 90.0C479.9 94.7 482.8 99.5 485.0 103.0C487.2 106.5 490.8 109.7 492.0 111.0" fill="none" stroke="#000" stroke-width="9.6" stroke-linecap="round"/>
<path d="M480.0 59.0C479.9 61.7 479.7 69.8 479.5 75.0C479.3 80.2 478.1 85.3 479.0 90.0C479.9 94.7 482.8 99.5 485.0 103.0C487.2 106.5 490.8 109.7 492.0 111.0" fill="none" stroke="url(#dots2)" stroke-width="7.2" stroke-linecap="round"/>
<ellipse cx="480" cy="59" rx="3.3" ry="1.8" fill="#fff" stroke="#000" stroke-width="0.9" />
<path d="M512.5 101.5C512.6 100.4 512.1 97.4 513.0 95.0C513.9 92.6 515.2 89.7 518.0 87.0C520.8 84.3 525.8 81.7 530.0 79.0C534.2 76.3 539.8 73.7 543.0 71.0C546.2 68.3 548.7 65.5 549.0 63.0C549.3 60.5 547.2 58.0 545.0 56.0C542.8 54.0 539.3 52.8 536.0 51.0C532.7 49.2 526.8 46.4 525.0 45.5" fill="none" stroke="#000" stroke-width="10.4" stroke-linecap="round"/>
<path d="M512.5 101.5C512.6 100.4 512.1 97.4 513.0 95.0C513.9 92.6 515.2 89.7 518.0 87.0C520.8 84.3 525.8 81.7 530.0 79.0C534.2 76.3 539.8 73.7 543.0 71.0C546.2 68.3 548.7 65.5 549.0 63.0C549.3 60.5 547.2 58.0 545.0 56.0C542.8 54.0 539.3 52.8 536.0 51.0C532.7 49.2 526.8 46.4 525.0 45.5" fill="none" stroke="url(#dots2)" stroke-width="8" stroke-linecap="round"/>
<path d="M531.5 47.5C532.5 46.8 534.4 47.8 536.0 48.5C537.6 49.2 539.9 50.4 541.0 51.5C542.1 52.6 542.8 53.8 542.5 55.0C542.2 56.2 540.6 58.6 539.0 59.0C537.4 59.4 534.5 58.5 533.0 57.5C531.5 56.5 530.2 54.7 530.0 53.0C529.8 51.3 530.5 48.2 531.5 47.5Z" fill="#fff" stroke="#000" stroke-width="1.1" />
<path d="M533 49 L530.5 54.5 M536.5 49.5 L533.5 57.8" fill="none" stroke="#000" stroke-width="0.9" />
<path d="M513.0 166.0L513.0 192.5" fill="none" stroke="#000" stroke-width="9.9" stroke-linecap="round"/>
<path d="M513.0 166.0L513.0 192.5" fill="none" stroke="url(#dots2)" stroke-width="7.5" stroke-linecap="round"/>
<path d="M512.5 198.5L512.5 226.0" fill="none" stroke="#000" stroke-width="9.9" stroke-linecap="round"/>
<path d="M512.5 198.5L512.5 226.0" fill="none" stroke="url(#dots2)" stroke-width="7.5" stroke-linecap="round"/>
<ellipse cx="513" cy="166" rx="3.5" ry="1.7" fill="#fff" stroke="#000" stroke-width="0.9" />
<path d="M644.7 226.8C640.6 229.0 628.3 235.1 620.0 240.0C611.7 244.9 600.8 251.6 595.0 256.0C589.2 260.4 587.4 263.6 585.4 266.3C583.4 269.0 582.2 269.6 583.0 272.0C583.8 274.4 585.8 277.5 590.0 281.0C594.2 284.5 602.7 289.7 608.0 293.2C613.3 296.7 619.7 300.5 622.0 302.0" fill="none" stroke="#000" stroke-width="9.6" stroke-linecap="round"/>
<path d="M644.7 226.8C640.6 229.0 628.3 235.1 620.0 240.0C611.7 244.9 600.8 251.6 595.0 256.0C589.2 260.4 587.4 263.6 585.4 266.3C583.4 269.0 582.2 269.6 583.0 272.0C583.8 274.4 585.8 277.5 590.0 281.0C594.2 284.5 602.7 289.7 608.0 293.2C613.3 296.7 619.7 300.5 622.0 302.0" fill="none" stroke="url(#dots2)" stroke-width="7.2" stroke-linecap="round"/>
<path d="M613.6 295.0C614.3 293.4 615.3 291.7 618.0 292.5C620.7 293.3 627.9 297.9 630.0 300.0C632.1 302.1 631.3 303.6 630.6 305.0C629.9 306.4 628.8 309.2 626.0 308.7C623.2 308.2 616.1 304.3 614.0 302.0C611.9 299.7 612.9 296.6 613.6 295.0Z" fill="url(#dots2)" stroke="#000" stroke-width="1.2" />
<ellipse cx="626.5" cy="303.5" rx="3.5" ry="4.2" fill="#fff" stroke="#000" stroke-width="1.1" transform="rotate(-30 626.5 303.5)" />
<ellipse cx="481.5" cy="47.6" rx="6" ry="2.6" fill="none" stroke="#000" stroke-width="1.4" />
<ellipse cx="487.3" cy="46.800000000000004" rx="1.5" ry="1.3" fill="none" stroke="#000" stroke-width="1.2" />
<ellipse cx="487.3" cy="48.800000000000004" rx="1.5" ry="1.3" fill="none" stroke="#000" stroke-width="1.2" />
<ellipse cx="514.5" cy="111.8" rx="6" ry="2.6" fill="none" stroke="#000" stroke-width="1.4" />
<ellipse cx="520.3" cy="111.0" rx="1.5" ry="1.3" fill="none" stroke="#000" stroke-width="1.2" />
<ellipse cx="520.3" cy="113.0" rx="1.5" ry="1.3" fill="none" stroke="#000" stroke-width="1.2" />
<ellipse cx="514.5" cy="158.2" rx="6" ry="2.6" fill="none" stroke="#000" stroke-width="1.4" />
<ellipse cx="520.3" cy="157.39999999999998" rx="1.5" ry="1.3" fill="none" stroke="#000" stroke-width="1.2" />
<ellipse cx="520.3" cy="159.39999999999998" rx="1.5" ry="1.3" fill="none" stroke="#000" stroke-width="1.2" />
<ellipse cx="495.5" cy="118" rx="5" ry="2.6" fill="none" stroke="#000" stroke-width="1.4" transform="rotate(25 495.5 118)" />
<ellipse cx="500.3" cy="117.2" rx="1.5" ry="1.3" fill="none" stroke="#000" stroke-width="1.2" />
<ellipse cx="500.3" cy="119.2" rx="1.5" ry="1.3" fill="none" stroke="#000" stroke-width="1.2" />
<path d="M501.0 121.0C501.6 120.6 505.0 121.4 506.0 122.0C507.0 122.6 510.4 126.9 511.0 127.0C511.6 127.1 511.9 123.8 512.0 123.0C512.1 122.2 511.6 119.5 512.0 119.0C512.5 118.5 516.0 116.9 516.5 117.5C517.0 118.1 517.0 122.2 517.0 125.0C517.0 127.8 516.5 143.5 516.5 146.0C516.5 148.5 517.2 149.4 517.0 150.0C516.8 150.6 514.6 152.0 514.0 152.0C513.4 152.0 511.2 151.2 511.0 150.0C510.8 148.8 511.9 141.9 511.5 140.0C511.1 138.1 508.1 132.4 507.0 131.0C505.9 129.6 500.6 127.0 500.0 126.0C499.4 125.0 500.4 121.4 501.0 121.0Z" fill="#fff" stroke="#000" stroke-width="1.1" />
<ellipse cx="514.3" cy="118.7" rx="2.2" ry="1.3" fill="none" stroke="#000" stroke-width="0.8" />
<ellipse cx="501" cy="123.5" rx="1.8" ry="2.2" fill="none" stroke="#000" stroke-width="0.8" />
<path d="M437.4 206.2C438.0 205.4 441.2 204.0 442.6 203.8C444.0 203.6 449.7 204.1 450.9 204.4C452.1 204.7 453.9 206.0 454.4 206.8C454.9 207.6 454.8 210.8 456.0 212.0C457.2 213.2 464.7 218.3 466.2 219.1C467.7 219.9 470.0 220.0 470.9 220.3C471.8 220.6 474.7 221.9 475.6 222.0C476.5 222.1 479.4 221.3 480.3 221.5C481.2 221.7 484.4 223.3 485.0 223.8C485.6 224.3 486.1 225.8 486.2 226.8C486.3 227.8 486.0 232.6 485.6 233.8C485.2 235.0 483.6 237.9 482.6 238.5C481.6 239.1 476.8 239.7 475.6 239.7C474.4 239.7 471.0 238.9 470.3 238.5C469.6 238.1 469.3 236.2 468.5 235.6C467.7 235.0 463.8 233.2 462.6 232.6C461.4 232.0 457.6 230.3 456.2 229.7C454.8 229.1 449.6 227.4 448.5 226.8C447.4 226.2 446.4 224.3 445.6 223.8C444.8 223.3 441.3 222.1 440.3 221.5C439.3 220.9 436.0 218.4 435.6 217.4C435.2 216.4 436.0 212.6 436.2 211.5C436.4 210.4 436.8 207.0 437.4 206.2Z" fill="url(#dots3)" stroke="#000" stroke-width="1.5" />
<path d="M437.4 206.5C438.3 207.2 440.9 209.7 443.0 210.5C445.1 211.3 448.0 211.6 450.0 211.5C452.0 211.4 454.2 210.2 455.0 210.0" fill="none" stroke="#000" stroke-width="1.0" />
<path d="M471.5 223.5C472.2 224.2 474.2 226.8 476.0 227.5C477.8 228.2 480.3 228.1 482.0 228.0C483.7 227.9 485.3 227.0 486.0 226.8" fill="none" stroke="#000" stroke-width="1.0" />
<path d="M476 227.5 L475.6 239.5 M443 210.5 L441 221.5" fill="none" stroke="#000" stroke-width="0.9" />
<path d="M453.3 211.5 V217 C454 222.5 469.7 222.5 470.3 217 V211.5" fill="#fff" stroke="#000" stroke-width="1.1" />
<ellipse cx="461.8" cy="211.5" rx="8.3" ry="3.6" fill="#fff" stroke="#000" stroke-width="1.2" />
<ellipse cx="461.8" cy="211.3" rx="3.3" ry="1.5" fill="none" stroke="#000" stroke-width="1.0" />
<path d="M453.5 215 C456 218.5 467.5 218.5 470 215" fill="none" stroke="#000" stroke-width="0.9" />
<path d="M667.3 172 V211 L654.6 218.4" fill="none" stroke="#000" stroke-width="1.1" />
<path d="M667.3 168.5 L664.8 175 L669.8 175 Z" fill="#000"/>
<ellipse cx="652.5" cy="220.5" rx="3.8" ry="5.8" fill="none" stroke="#000" stroke-width="1.1" transform="rotate(-25 652.5 220.5)" />
<ellipse cx="649.5" cy="215.5" rx="1.5" ry="1.5" fill="none" stroke="#000" stroke-width="0.9" />
<ellipse cx="637.6" cy="309" rx="4.5" ry="6.5" fill="none" stroke="#000" stroke-width="1.1" transform="rotate(35 637.6 309)" />
<ellipse cx="641.5" cy="303" rx="1.5" ry="1.5" fill="none" stroke="#000" stroke-width="0.9" />
<path d="M675.0 93.0 L806.5 94.2 L806.2 226.6 L728.2 268.2 L728.2 354.5 L643.8 354.0 L643.8 317.5 L674.5 286.5Z" fill="none" stroke="#000" stroke-width="1.1" stroke-dasharray="34 5 2 5"/>
<path d="M692.5 111 C692.5 106.5 701.2 106.5 701.2 111 L700.1 217 H690.6 Z" fill="url(#mesh)" stroke="#000" stroke-width="1.3" />
<path d="M690.6 217 V231 H700.1 V217" fill="#fff" stroke="#000" stroke-width="1.2" />
<path d="M690.6 225.5 H700.1" fill="none" stroke="#000" stroke-width="1.1" />
<path d="M690.6 228 H700.1" fill="none" stroke="#000" stroke-width="0.9" />
<path d="M693 110 C694 108.5 699.5 108.5 700.5 110" fill="none" stroke="#000" stroke-width="0.8" />
<path d="M696 112 L695 216" fill="none" stroke="#000" stroke-width="0.9" />
<path d="M701 198.8 H724.7 V237.6 H718.8" fill="none" stroke="#000" stroke-width="1.1" />
<ellipse cx="694.8" cy="237.3" rx="6.2" ry="2.9" fill="none" stroke="#000" stroke-width="1.2" />
<ellipse cx="694.8" cy="237.3" rx="2.6" ry="1.1" fill="none" stroke="#000" stroke-width="0.9" />
<path d="M691.5 242 V306 M697 242 V306 M691.5 242 H697" fill="none" stroke="#000" stroke-width="1.1" />
<path d="M656.8 316.8 L677.0 325.5 L676.0 333.0 L654.2 325.0Z" fill="#fff" stroke="#000" stroke-width="1.2" />
<ellipse cx="655.6" cy="320.9" rx="3.3" ry="4.6" fill="#fff" stroke="#000" stroke-width="1.2" transform="rotate(-25 655.6 320.9)" />
<ellipse cx="655.6" cy="320.9" rx="1.4" ry="2" fill="none" stroke="#000" stroke-width="0.8" transform="rotate(-25 655.6 320.9)" />
<path d="M661 320.4 L658.8 328.4" fill="none" stroke="#000" stroke-width="1.0" />
<path d="M663.5 321.5 L661.3 329.5" fill="none" stroke="#000" stroke-width="1.0" />
<path d="M666 322.6 L663.8 330.6" fill="none" stroke="#000" stroke-width="1.0" />
<path d="M679.0 318.0C680.0 316.4 685.8 314.4 688.0 314.0C690.2 313.6 698.9 313.2 701.0 313.5C703.1 313.8 707.9 315.9 709.0 317.0C710.1 318.1 711.8 322.2 712.0 324.0C712.2 325.8 712.4 333.3 711.5 335.0C710.6 336.7 705.1 340.3 703.0 341.0C700.9 341.7 692.3 342.5 690.0 342.3C687.7 342.1 681.2 340.2 680.0 339.0C678.8 337.8 677.7 332.1 677.6 330.0C677.5 327.9 678.0 319.6 679.0 318.0Z" fill="#fff" stroke="#000" stroke-width="1.2" />
<path d="M706.0 316.5 L713.5 312.0 L717.7 314.5 L717.7 319.5 L710.5 323.0" fill="#fff" stroke="#000" stroke-width="1.1" />
<ellipse cx="715.8" cy="316.5" rx="1.9" ry="3" fill="#fff" stroke="#000" stroke-width="1.0" transform="rotate(-30 715.8 316.5)" />
<ellipse cx="682" cy="325.8" rx="4.2" ry="4.9" fill="#fff" stroke="#000" stroke-width="1.1" transform="rotate(-25 682 325.8)" />
<ellipse cx="679.5" cy="335.2" rx="4.6" ry="5.2" fill="#fff" stroke="#000" stroke-width="1.1" transform="rotate(-25 679.5 335.2)" />
<path d="M694 324 C697 320 705 320 706 326 M697 336 C702 334 706 330 706 326" fill="none" stroke="#000" stroke-width="0.9" />
<path d="M682.1 306.7 L682.1 312.5 L686.0 316.4 L699.0 316.4 L703.5 312.5 L703.5 306.7" fill="#fff" stroke="#000" stroke-width="1.2" />
<ellipse cx="692.8" cy="306.7" rx="10.7" ry="5.2" fill="#fff" stroke="#000" stroke-width="1.2" />
<ellipse cx="693" cy="306.2" rx="5.5" ry="2.8" fill="none" stroke="#000" stroke-width="1.0" />
<path d="M691.5 295 V306 M697 295 V306" fill="none" stroke="#000" stroke-width="1.1" />
<path d="M686 316.4 V311 M699 316.4 V311" fill="none" stroke="#000" stroke-width="0.8" />
<path d="M786.9 264.0 L791.0 262.2 L795.3 266.0 L795.3 274.0 L791.0 279.0" fill="#fff" stroke="#000" stroke-width="1.1" />
<path d="M781.0 265.0C781.7 264.8 784.7 263.1 786.0 263.5C787.3 263.9 789.6 266.2 790.5 268.0C791.4 269.8 792.6 274.7 792.5 277.0C792.4 279.3 791.0 284.0 790.0 285.5C789.0 287.0 786.3 288.1 785.0 288.2C783.7 288.3 780.7 286.3 780.0 286.0" fill="#fff" stroke="#000" stroke-width="1.2" />
<ellipse cx="781.4" cy="275.6" rx="7.2" ry="12.6" fill="#fff" stroke="#000" stroke-width="1.2" transform="rotate(18 781.4 275.6)" />
<path d="M781.5 274.5 L747.9 293.6 L751.0 300.5 L784.6 280.6" fill="#fff" stroke="#000" stroke-width="1.2" />
<path d="M736.0 295.0C736.8 294.6 742.8 291.1 744.0 291.0C745.2 290.9 747.9 292.6 748.5 293.5C749.1 294.4 750.0 298.8 750.0 300.0C750.0 301.2 748.9 304.7 748.0 305.5C747.1 306.3 742.2 307.9 741.0 308.0C739.8 308.1 736.5 306.2 736.0 306.0" fill="#fff" stroke="#000" stroke-width="1.2" />
<ellipse cx="738.6" cy="302.6" rx="4.3" ry="5.2" fill="#fff" stroke="#000" stroke-width="1.2" transform="rotate(-25 738.6 302.6)" />
<ellipse cx="738.8" cy="302.5" rx="1.8" ry="2.2" fill="none" stroke="#000" stroke-width="0.9" transform="rotate(-25 738.8 302.5)" />
<path d="M811.4 257.7 L799.1 265.4 L801.5 269.2 L813.8 261.5Z" fill="#fff" stroke="#000" stroke-width="1.1" />
<path d="M805.9 261.2 L807.2 265.6" fill="none" stroke="#000" stroke-width="0.8" />
<path d="M804.5 262.0 L805.9 266.4" fill="none" stroke="#000" stroke-width="0.8" />
<path d="M803.2 262.9 L804.5 267.3" fill="none" stroke="#000" stroke-width="0.8" />
<path d="M801.8 263.7 L803.2 268.1" fill="none" stroke="#000" stroke-width="0.8" />
<path d="M800.5 264.6 L801.8 269.0" fill="none" stroke="#000" stroke-width="0.8" />
<path d="M811.5 255.5C811.9 255.0 814.3 254.7 815.0 254.8C815.7 255.0 818.4 256.4 818.8 257.0C819.2 257.6 819.3 260.4 819.1 261.0C818.9 261.6 817.2 263.0 816.5 263.2C815.8 263.4 813.1 263.2 812.5 262.8C811.9 262.4 811.0 260.2 810.9 259.5C810.8 258.8 811.1 256.0 811.5 255.5Z" fill="#fff" stroke="#000" stroke-width="1.3" />
<ellipse cx="815.3" cy="258.8" rx="2.2" ry="3" fill="none" stroke="#000" stroke-width="1.0" transform="rotate(-20 815.3 258.8)" />
<path d="M827.4 231.3 L813.3 239.5 L815.5 243.3 L829.6 235.1Z" fill="#fff" stroke="#000" stroke-width="1.1" />
<path d="M821.0 235.0 L822.2 239.4" fill="none" stroke="#000" stroke-width="0.8" />
<path d="M819.5 235.9 L820.7 240.3" fill="none" stroke="#000" stroke-width="0.8" />
<path d="M817.9 236.8 L819.1 241.2" fill="none" stroke="#000" stroke-width="0.8" />
<path d="M816.4 237.7 L817.6 242.1" fill="none" stroke="#000" stroke-width="0.8" />
<path d="M814.8 238.6 L816.0 243.0" fill="none" stroke="#000" stroke-width="0.8" />
<path d="M827.5 229.0C827.9 228.5 830.3 228.2 831.0 228.3C831.7 228.4 834.4 229.7 834.8 230.3C835.2 230.9 835.2 233.9 835.0 234.5C834.8 235.1 833.1 236.5 832.5 236.7C831.9 236.9 829.1 236.6 828.5 236.2C827.9 235.8 826.9 233.7 826.8 233.0C826.7 232.3 827.1 229.5 827.5 229.0Z" fill="#fff" stroke="#000" stroke-width="1.3" />
<ellipse cx="831.2" cy="232.4" rx="2.2" ry="3" fill="none" stroke="#000" stroke-width="1.0" transform="rotate(-20 831.2 232.4)" />
<path d="M808.5 229.4 V247.8 H836" fill="none" stroke="#000" stroke-width="1.1" />
<g id="labels"/>
</g>
<g fill="none" stroke="#000" stroke-width="1.2" stroke-linecap="round" stroke-linejoin="round">
<!-- label leader lines -->
<path d="M206.0 49.5H225 M118.8 168.5H135.3 M55.5 202.0V215 M100.5 228.0V242 M74.0 292.5H90.6 M207.5 320.6V332.4 M148.5 361.5V372 M100.5 381.5V392 M358.4 375.5H373 M481.5 240.0V253 M423.5 102.5H434 M439.5 140.5H450.5 M462.4 47.5H474 M462.4 75.5H476.5 M551.8 64.5H567 M520.0 111.5H533 M481.0 117.5H491.8 M516.5 136.5H527 M497.6 156.5H508 M517.6 183.5H529.4 M740.5 79.4V93.5 M648.5 202.4V215.3 M726.0 218.5H736.5 M830.5 216.7V229.4 M638.5 290.6V302.4 M814.5 263.3V277.5 M771.5 289.4V301.2 M595.5 290.0V305.3"/>
</g>
<g text-anchor="middle">
<text x="197.0" y="55.2" transform="matrix(0.86 0 0 1 27.58 0)">16</text>
<text x="111.8" y="174.2" transform="matrix(0.86 0 0 1 15.65 0)">9</text>
<text x="55.8" y="199.2" transform="matrix(0.86 0 0 1 7.81 0)">15</text>
<text x="98.8" y="225.2" transform="matrix(0.86 0 0 1 13.83 0)">15</text>
<text x="67.8" y="292.2" transform="matrix(0.86 0 0 1 9.49 0)">9</text>
<text x="68.2" y="305.8" transform="matrix(0.86 0 0 1 9.55 0)">12</text>
<text x="206.5" y="305.2" transform="matrix(0.86 0 0 1 28.91 0)">9</text>
<text x="207.0" y="319.2" transform="matrix(0.86 0 0 1 28.98 0)">14</text>
<text x="148.7" y="358.9" transform="matrix(0.86 0 0 1 20.82 0)">13</text>
<text x="100.0" y="404.2" transform="matrix(0.86 0 0 1 14.00 0)">18</text>
<text x="378.5" y="381.0" transform="matrix(0.86 0 0 1 52.99 0)">7</text>
<text x="481.0" y="265.2" transform="matrix(0.86 0 0 1 67.34 0)">8</text>
<text x="413.0" y="107.8" transform="matrix(0.86 0 0 1 57.82 0)">25</text>
<text x="458.8" y="146.1" transform="matrix(0.86 0 0 1 64.23 0)">11</text>
<text x="453.0" y="52.7" transform="matrix(0.86 0 0 1 63.42 0)">19</text>
<text x="451.8" y="81.0" transform="matrix(0.86 0 0 1 63.25 0)">23</text>
<text x="573.0" y="69.2" transform="matrix(0.86 0 0 1 80.22 0)">10</text>
<text x="542.4" y="116.8" transform="matrix(0.86 0 0 1 75.94 0)">20</text>
<text x="473.0" y="123.5" transform="matrix(0.86 0 0 1 66.22 0)">19</text>
<text x="531.8" y="141.2" transform="matrix(0.86 0 0 1 74.45 0)">1</text>
<text x="487.0" y="162.6" transform="matrix(0.86 0 0 1 68.18 0)">20</text>
<text x="538.8" y="188.4" transform="matrix(0.86 0 0 1 75.43 0)">24</text>
<text x="740.7" y="76.4" transform="matrix(0.86 0 0 1 103.70 0)">2</text>
<text x="648.2" y="199.2" transform="matrix(0.86 0 0 1 90.75 0)">21</text>
<text x="742.5" y="223.7" transform="matrix(0.86 0 0 1 103.95 0)">4</text>
<text x="713.0" y="242.2" transform="matrix(0.86 0 0 1 99.82 0)">5</text>
<text x="830.3" y="214.9" transform="matrix(0.86 0 0 1 116.24 0)">26</text>
<text x="638.4" y="288.7" transform="matrix(0.86 0 0 1 89.38 0)">22</text>
<text x="814.7" y="289.2" transform="matrix(0.86 0 0 1 114.06 0)">17</text>
<text x="771.8" y="313.2" transform="matrix(0.86 0 0 1 108.05 0)">6</text>
<text x="595.3" y="319.9" transform="matrix(0.86 0 0 1 83.34 0)">3</text>
<text x="656.2" y="164.8" font-weight="bold" style="font-size:14.5px;letter-spacing:0.7px;stroke-width:0.7px">E-19</text>
<text x="689.4" y="404.7" style="font-size:10px;stroke-width:0.15px">KPC3F1400C</text>
</g>
</svg>
</body></html>
